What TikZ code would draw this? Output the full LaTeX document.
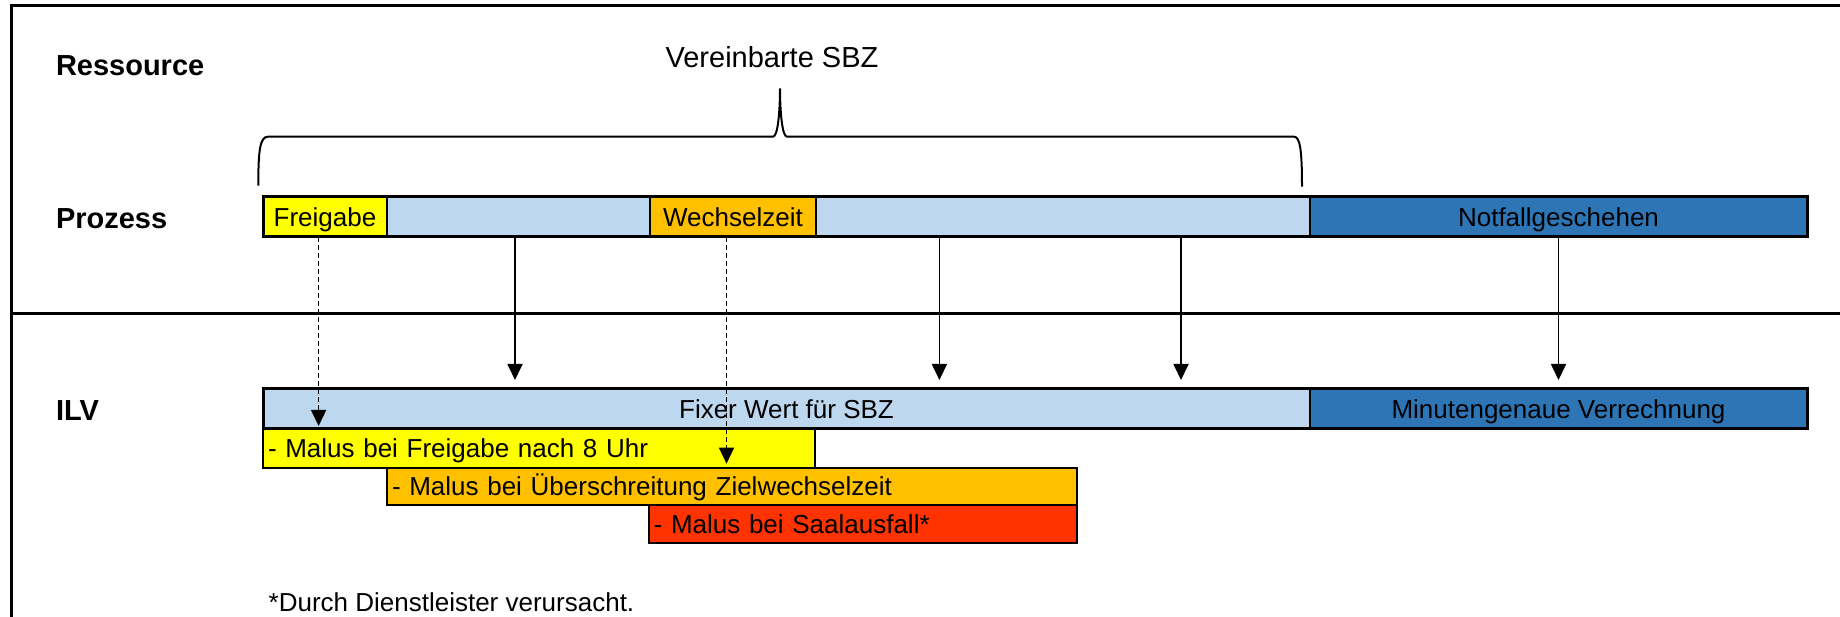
\documentclass[tikz,border=0pt]{standalone}
\usepackage{fontspec}
\setmainfont{Liberation Sans}
\usetikzlibrary{arrows.meta}
\definecolor{lblue}{HTML}{BDD7EE}
\definecolor{dblue}{HTML}{2E75B6}
\definecolor{orng}{HTML}{FFC000}
\definecolor{rred}{HTML}{FF3300}
\definecolor{yllw}{HTML}{FFFF00}
\begin{document}
\begin{tikzpicture}[x=1pt,y=-1pt,
  every node/.style={font=\fontsize{26}{30}\selectfont, inner sep=0pt, outer sep=0pt,
    text height=18.6pt, text depth=0pt},
  seg/.style={draw=black, line width=1.5pt, minimum height=40pt, anchor=north west},
  malus/.style={draw=black, line width=2pt, inner xsep=5pt, inner ysep=0pt, anchor=north west, align=left},
  rowlabel/.style={anchor=west, font=\fontsize{29}{33}\selectfont\bfseries, text height=20.8pt},
  arr/.style={line width=1.8pt, -{Triangle[length=16pt,width=15pt]}},
  darr/.style={arr, line width=1.5pt, dash pattern=on 5pt off 3pt},
  outline/.style={line width=3pt},
  framel/.style={line width=2.5pt}]
\useasboundingbox (0,0) rectangle (1840,617);
\clip (0,0) rectangle (1840,617);
% frame
\draw[framel] (1860,5.3) -- (11.7,5.3) -- (11.7,640);
\draw[framel] (11.7,313.3) -- (1860,313.3);
% labels
\node[rowlabel] (lres) at (56,65) {Ressource};
\node[rowlabel] (lpro) at (56,218) {Prozess};
\node[rowlabel] (lilv) at (56,410) {ILV};
\node[font=\fontsize{29}{33}\selectfont, text height=20.8pt] (sbz) at (772,57) {Vereinbarte SBZ};
% brace
\draw[line width=2pt] (258.3,185.7) .. controls (258.3,150) and (260,136.7) .. (268,136.7)
  -- (773,136.7) .. controls (778,136.7) and (780,110) .. (780,88.3)
  .. controls (780,110) and (782,136.7) .. (787,136.7)
  -- (1294,136.7) .. controls (1300,136.7) and (1302,150) .. (1302,186.7);
% process bar
\node[seg, fill=yllw, minimum width=124pt] (frei) at (263,197) {Freigabe};
\node[seg, fill=lblue, minimum width=263pt] (pb1) at (frei.north east) {};
\node[seg, fill=orng, minimum width=166pt] (wech) at (pb1.north east) {Wechselzeit};
\node[seg, fill=lblue, minimum width=494pt] (pb2) at (wech.north east) {};
\node[seg, fill=dblue, minimum width=497pt] (notf) at (pb2.north east) {Notfallgeschehen};
\draw[outline] (frei.north west) rectangle (notf.south east);
% ILV bar
\node[seg, fill=lblue, minimum width=1047pt] (ilv) at (263,389) {Fixer Wert für SBZ};
\node[seg, fill=dblue, minimum width=497pt] (minu) at (ilv.north east) {Minutengenaue Verrechnung};
\draw[outline] (ilv.north west) rectangle (minu.south east);
% malus boxes
\node[malus, fill=yllw, minimum height=38.7pt, text width=541.5pt] (yel) at (263,429) {- Malus bei Freigabe nach 8 Uhr};
\node[malus, fill=orng, minimum height=37.3pt, text width=680pt] (org) at (387,467.7) {- Malus bei Überschreitung Zielwechselzeit};
\node[malus, fill=rred, minimum height=38.3pt, text width=418.3pt] (red) at (648.7,505) {- Malus bei Saalausfall*};
% footnote
\node[anchor=west] (fn) at (268.7,601.7) {*Durch Dienstleister verursacht.};
% arrow x positions
\coordinate (xa) at (318.6,0);
\coordinate (xb) at (515,0);
\coordinate (xc) at (726.5,0);
\coordinate (xd) at (939.4,0);
\coordinate (xe) at (1181,0);
% arrows
\draw[darr, shorten >=3pt] (frei.south -| xa) -- (ilv.south -| xa);
\draw[darr, shorten >=4pt] (wech.south -| xc) -- (yel.south -| xc);
\draw[arr, shorten >=9pt] (pb1.south -| xb) -- (ilv.north -| xb);
\draw[arr, shorten >=9pt] (pb2.south -| xd) -- (ilv.north -| xd);
\draw[arr, shorten >=9pt] (pb2.south -| xe) -- (ilv.north -| xe);
\draw[arr, shorten >=9pt] (notf.south) -- (minu.north);
\end{tikzpicture}
\end{document}
